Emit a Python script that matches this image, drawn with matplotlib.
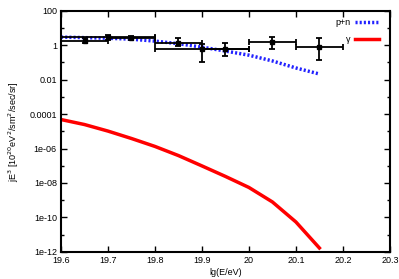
import numpy as np
import matplotlib
matplotlib.use('Agg')
import matplotlib.pyplot as plt
from matplotlib.ticker import FixedLocator, NullFormatter

plt.rcParams['font.family'] = ['Liberation Sans', 'DejaVu Sans']

# Data points with bins and errors
x_pts = [19.65, 19.7, 19.75, 19.85, 19.9, 19.95, 20.05, 20.15]
x_lo = [19.6, 19.6, 19.7, 19.8, 19.8, 19.9, 20.0, 20.1]
x_hi = [19.7, 19.8, 19.8, 19.9, 20.0, 20.0, 20.1, 20.2]
y_pts = [1.7, 2.9, 2.7, 1.3, 0.59, 0.59, 1.5, 0.77]
y_lo = [1.3, 1.95, 2.1, 0.87, 0.103, 0.23, 0.59, 0.135]
y_hi = [2.55, 3.8, 3.55, 2.55, 1.14, 1.3, 2.9, 2.55]

# Model curves
lgE = [19.6, 19.65, 19.7, 19.75, 19.8, 19.85, 19.9, 19.95, 20.0, 20.05, 20.1, 20.15]
pn = [2.9, 2.7, 2.5, 2.2, 1.7, 1.2, 0.76, 0.45, 0.26, 0.12, 0.047, 0.021]
gamma_log = [-4.32, -4.61, -4.99, -5.42, -5.88, -6.41, -7.01, -7.62, -8.26, -9.1, -10.26, -11.77]

fig = plt.figure(figsize=(3.99, 2.79), dpi=100)
ax = fig.add_axes([0.153, 0.097, 0.824, 0.865])

x = np.array(x_pts)
y = np.array(y_pts)
xerr = [x - np.array(x_lo), np.array(x_hi) - x]
yerr = [y - np.array(y_lo), np.array(y_hi) - y]
ax.errorbar(x, y, xerr=xerr, yerr=yerr, fmt='s', color='black', ms=2.5,
            lw=1.3, capsize=2, capthick=1.3, zorder=3)

ax.plot(lgE, pn, color='#2222ff', lw=2.5, ls=(0, (0.6, 0.6)), label='p+n', zorder=2)
ax.plot(lgE, 10 ** np.array(gamma_log), color='#ff0000', lw=2.5, label='\u03b3', zorder=2)

ax.set_yscale('log')
ax.set_xlim(19.6, 20.3)
ax.set_ylim(1e-12, 100)
ax.set_xticks([19.6, 19.7, 19.8, 19.9, 20.0, 20.1, 20.2, 20.3])
ax.set_xticklabels(['19.6', '19.7', '19.8', '19.9', '20', '20.1', '20.2', '20.3'])
yt = [1e-12, 1e-10, 1e-8, 1e-6, 1e-4, 1e-2, 1, 100]
ax.yaxis.set_major_locator(FixedLocator(yt))
ax.set_yticklabels(['1e-12', '1e-10', '1e-08', '1e-06', '0.0001', '0.01', '1', '100'])
ax.yaxis.set_minor_locator(FixedLocator([1e-11, 1e-9, 1e-7, 1e-5, 1e-3, 0.1, 10]))
ax.yaxis.set_minor_formatter(NullFormatter())

ax.tick_params(which='both', direction='in', top=True, right=True, labelsize=6.5,
               width=1, pad=3)
ax.tick_params(which='major', length=4)
ax.tick_params(which='minor', length=2)
for s in ax.spines.values():
    s.set_linewidth(1.5)

ax.set_xlabel('lg(E/eV)', fontsize=6.5, labelpad=2)
ax.set_ylabel('jE$^3$ [10$^{20}$eV$^2$/sm$^2$/sec/sr]', fontsize=6.5, labelpad=6)

leg = ax.legend(loc='upper right', bbox_to_anchor=(0.988, 1.0), fontsize=6.5,
                frameon=False, markerfirst=False, handlelength=2.6,
                handletextpad=0.5, borderaxespad=0.4, labelspacing=0.9)
for t in leg.get_texts():
    t.set_ha('right')

fig.savefig('out.png', dpi=100)
